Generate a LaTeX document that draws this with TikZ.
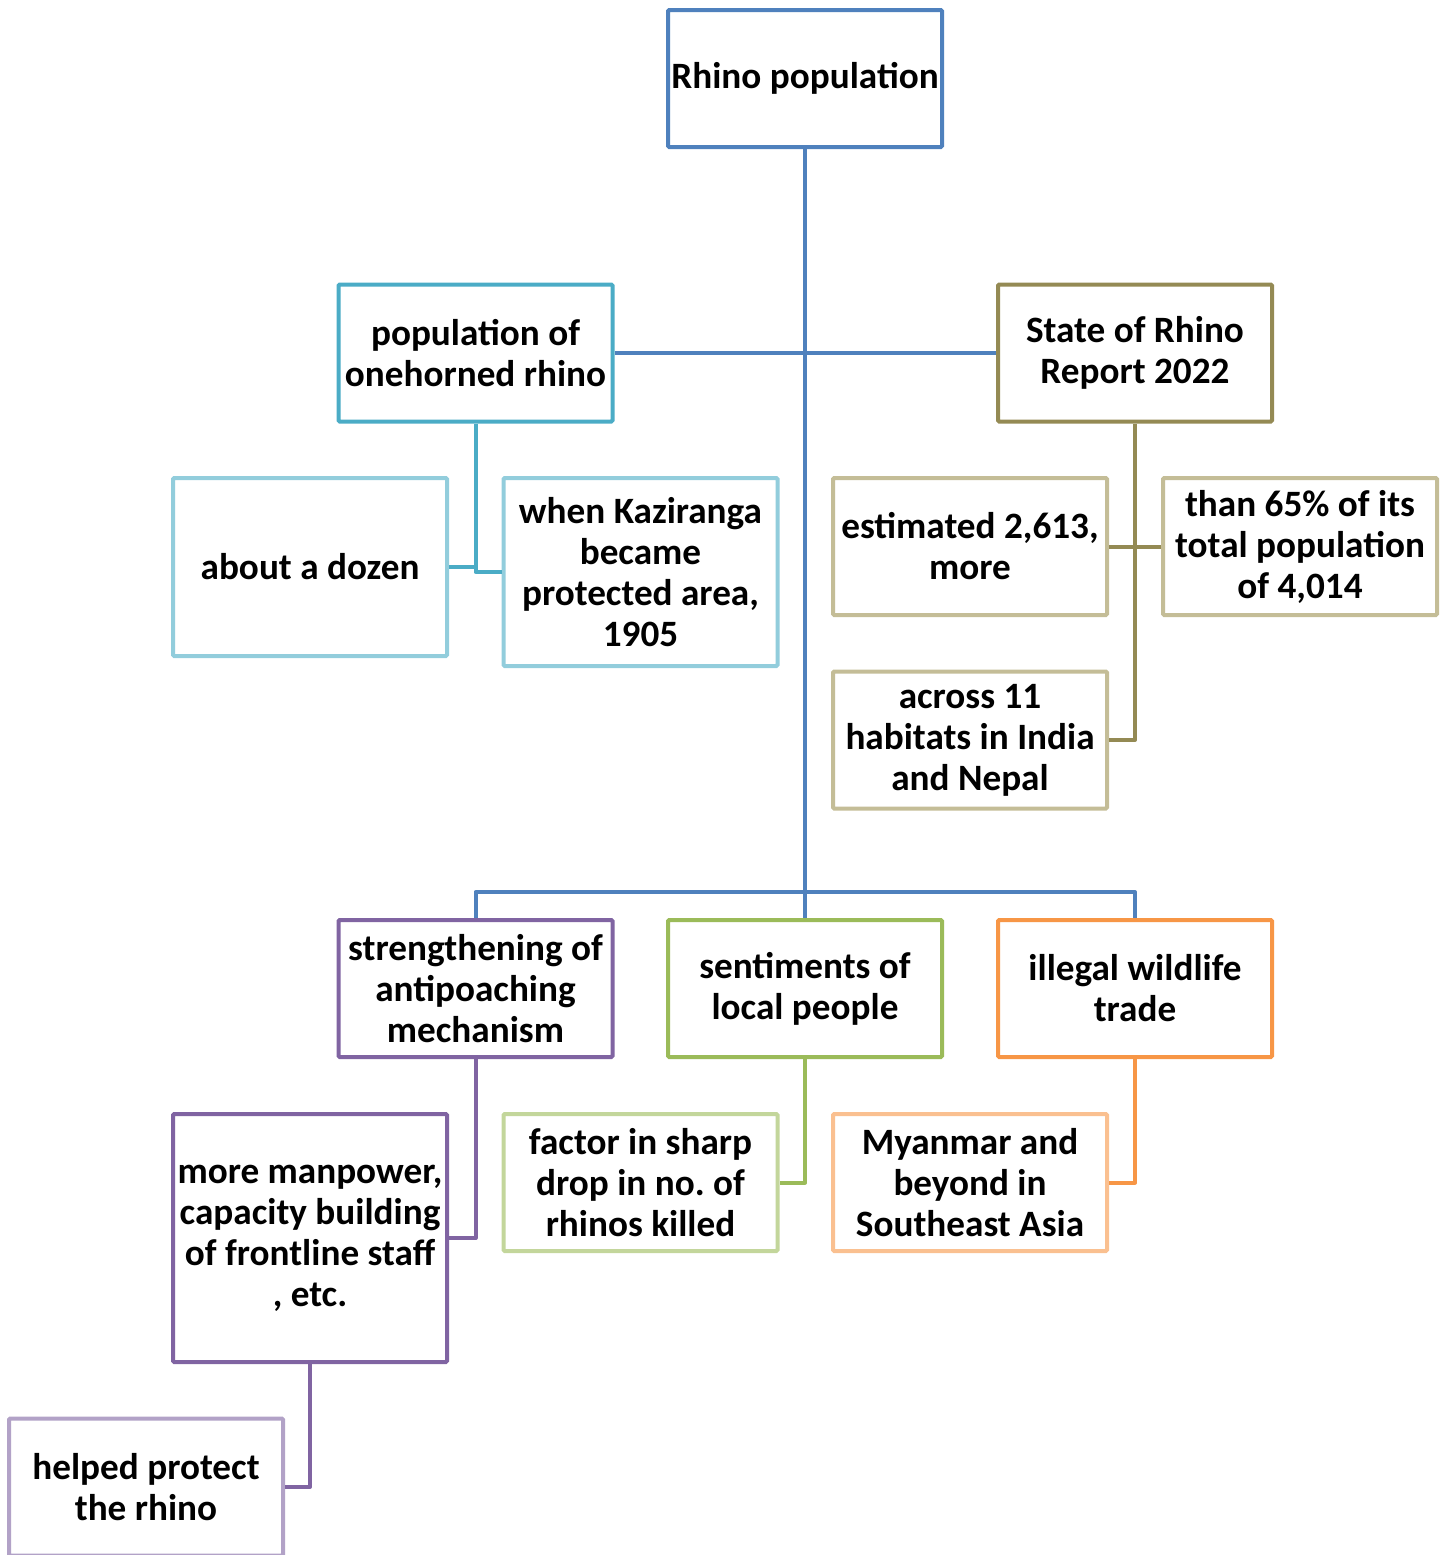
\documentclass[tikz,border=0pt]{standalone}
\usepackage{fontspec}
\setmainfont{Carlito}
\frenchspacing
\definecolor{cblue}{HTML}{4F81BD}
\definecolor{cteal}{HTML}{4BACC6}
\definecolor{clteal}{HTML}{92CDDC}
\definecolor{colive}{HTML}{948A54}
\definecolor{ctan}{HTML}{C4BD97}
\definecolor{cpurple}{HTML}{8064A2}
\definecolor{clpurple}{HTML}{B2A2C7}
\definecolor{cgreen}{HTML}{9BBB59}
\definecolor{clgreen}{HTML}{C3D69B}
\definecolor{corange}{HTML}{F79646}
\definecolor{clorange}{HTML}{FAC090}
\tikzset{
  box/.style={draw, line width=2pt, fill=white, align=center, inner sep=0pt,
    font=\fontsize{18.6}{20.5}\selectfont\bfseries, rounded corners=0.6pt,
    minimum width=137pt, minimum height=68.5pt},
  conn/.style={line width=2pt, line join=round}
}
\begin{document}
\begin{tikzpicture}[x=0.5pt, y=-0.5pt]
\useasboundingbox (0,0) rectangle (1447,1555);
% nodes
\node[box, draw=cblue] (root) at (805,78.5) {Rhino population};
\node[box, draw=cteal] (pop) at (475.5,353) {population of\\onehorned rhino};
\node[box, draw=colive] (state) at (1135,353) {State of Rhino\\Report 2022};
\node[box, draw=clteal, minimum height=89pt] (dozen) at (310,567) {about a dozen};
\node[box, draw=clteal, minimum height=94pt] (kaz) at (640.5,572) {when Kaziranga\\became\\protected area,\\1905};
\node[box, draw=ctan] (est) at (970,546.5) {estimated 2,613,\\more};
\node[box, draw=ctan] (than) at (1300,546.5) {than 65\% of its\\total population\\of 4,014};
\node[box, draw=ctan] (across) at (970,740) {across 11\\habitats in India\\and Nepal};
\node[box, draw=cpurple] (str) at (475.5,988.5) {strengthening of\\antipoaching\\mechanism};
\node[box, draw=cgreen] (sent) at (805,988.5) {sentiments of\\local people};
\node[box, draw=corange] (ill) at (1135,988.5) {illegal wildlife\\trade};
\node[box, draw=cpurple, minimum height=124pt] (man) at (310,1238) {more manpower,\\capacity building\\of frontline staff\\, etc.};
\node[box, draw=clgreen] (fac) at (640.5,1182.5) {factor in sharp\\drop in no. of\\rhinos killed};
\node[box, draw=clorange] (mya) at (970,1182.5) {Myanmar and\\beyond in\\Southeast Asia};
\node[box, draw=clpurple] (helped) at (146,1487) {helped protect\\the rhino};
\coordinate (bus) at (805,892);
% connectors
\draw[conn, cblue] (root.south) -- (sent.north);
\draw[conn, cblue] (pop.east) -- (state.west);
\draw[conn, cblue] (str.north) |- (bus) -| (ill.north);
\draw[conn, cteal] (pop.south) |- (kaz.west);
\draw[conn, cteal] (dozen.east) -- (dozen.east -| pop.south);
\draw[conn, colive] (state.south) |- (across.east);
\draw[conn, colive] (est.east) -- (than.west);
\draw[conn, cpurple] (str.south) |- (man.east);
\draw[conn, cgreen] (sent.south) |- (fac.east);
\draw[conn, corange] (ill.south) |- (mya.east);
\draw[conn, cpurple] (man.south) |- (helped.east);
\end{tikzpicture}
\end{document}
